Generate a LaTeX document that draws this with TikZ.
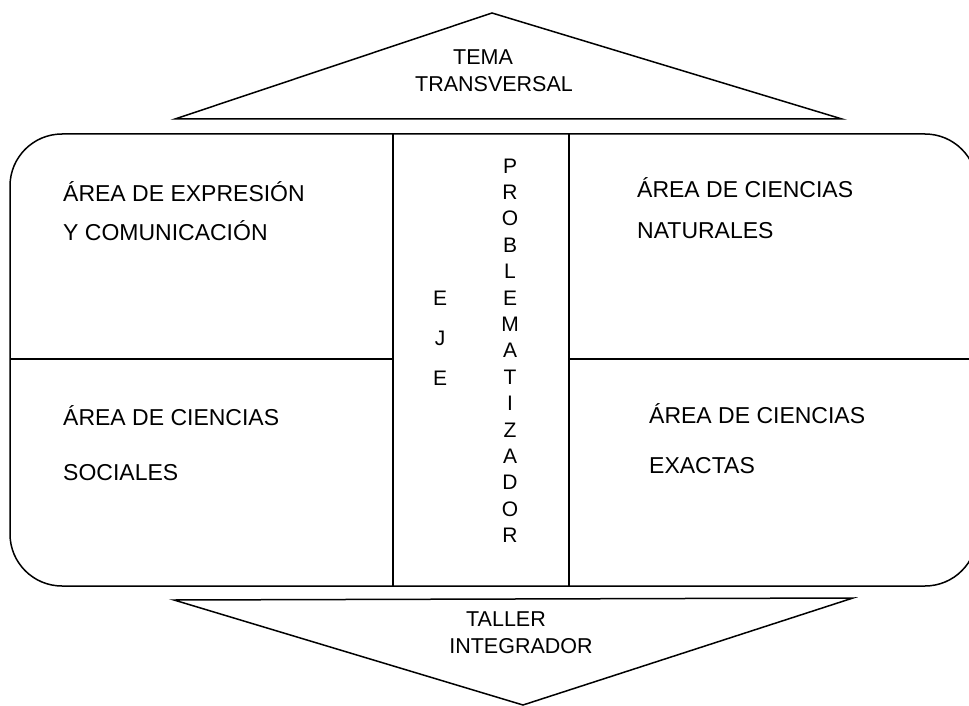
\documentclass[tikz,border=0pt]{standalone}
\usepackage{fontspec}
\setmainfont{Liberation Sans}
\usetikzlibrary{%
    calc,
    positioning
}
\tikzset{
    outline/.style = {draw, line width=1.5pt, line join=miter},
    areatext/.style = {anchor=base west, inner sep=0pt, font=\fontsize{23}{27}\selectfont},
    titletext/.style = {anchor=base, inner sep=0pt, font=\fontsize{21.5}{26}\selectfont},
    letter/.style = {anchor=base, inner sep=0pt, font=\fontsize{21}{24}\selectfont}
}

\begin{document}
\begin{tikzpicture}[x=1pt,y=-1pt]
    \useasboundingbox (0,0) rectangle (969,706);

    % top and bottom triangles
    \coordinate (top-l) at (175,119);
    \coordinate (top-a) at (492,13);
    \coordinate (top-r) at (842,119);
    \coordinate (bot-l) at (174,600);
    \coordinate (bot-r) at (853,598);
    \coordinate (bot-a) at (523,705);
    \draw[outline] (top-l) -- (top-a) -- (top-r) -- cycle;
    \draw[outline] (bot-l) -- (bot-r) -- (bot-a) -- cycle;

    % main frame
    \coordinate (frame-nw) at (10,134);
    \coordinate (frame-se) at (977,586);
    \draw[outline, rounded corners=52pt] (frame-nw) rectangle (frame-se);
    \foreach \x [count=\i] in {393,569}
        \draw[outline] (\x,134) coordinate (col-\i-t) -- (\x,586) coordinate (col-\i-b);
    \draw[outline] (frame-nw |- 0,359) -- (col-1-t |- 0,359);
    \draw[outline] (col-2-t |- 0,359) -- (frame-se |- 0,359);

    % texts
    \node[titletext] (tema) at (483,65) {TEMA};
    \node[titletext] (transversal) at (494,92) {TRANSVERSAL};
    \node[titletext] (taller) at (506,626) {TALLER};
    \node[titletext] (integrador) at (521,653) {INTEGRADOR};

    \node[areatext] (expr-1) at (63,201) {ÁREA DE EXPRESIÓN};
    \node[areatext] (expr-2) at (63,240) {Y COMUNICACIÓN};
    \node[areatext] (soc-1) at (63,425) {ÁREA DE CIENCIAS};
    \node[areatext] (soc-2) at (63,480) {SOCIALES};
    \node[areatext] (nat-1) at (637,197) {ÁREA DE CIENCIAS};
    \node[areatext] (nat-2) at (637,238) {NATURALES};
    \node[areatext] (exa-1) at (649,423) {ÁREA DE CIENCIAS};
    \node[areatext] (exa-2) at (649,473) {EXACTAS};

    \foreach \l [count=\i] in {E,J,E}
        \node[letter] (eje-\i) at (440,{265+40*\i}) {\l};
    \foreach \l [count=\i] in {P,R,O,B,L,E,M,A,T,I,Z,A,D,O,R}
        \node[letter] (prob-\i) at (510,{146.6+26.4*\i}) {\l};
\end{tikzpicture}
\end{document}
